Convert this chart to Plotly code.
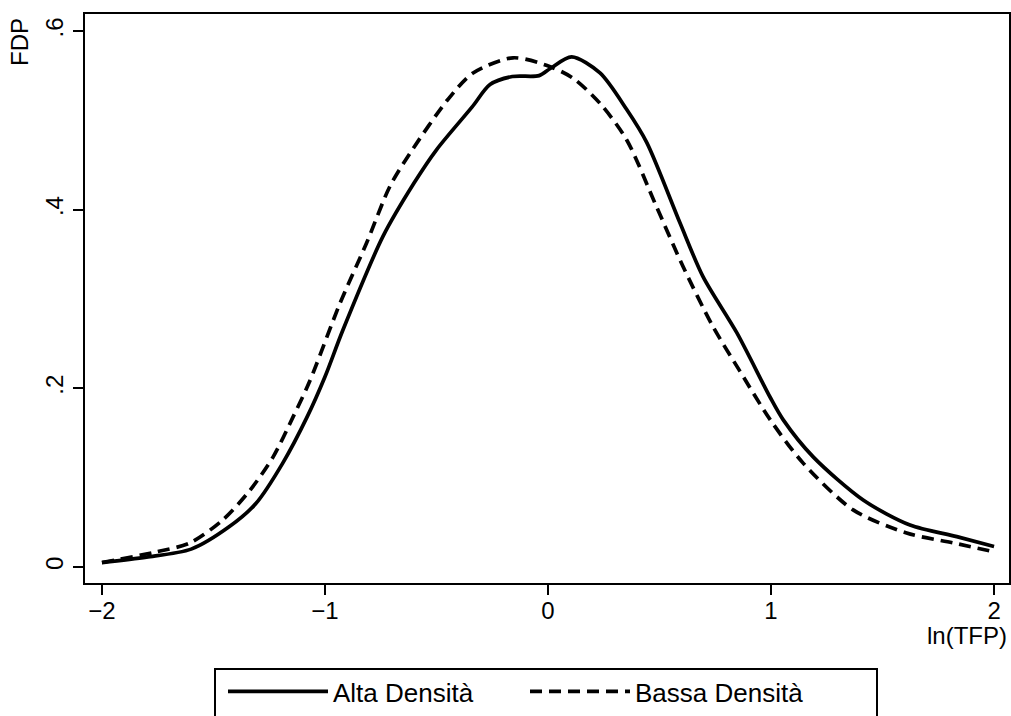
import plotly.graph_objects as go

# Alta Densità (solid)
alta_x = [-2.0, -1.8, -1.6, -1.43, -1.31, -1.19, -1.08, -1.0, -0.92, -0.74, -0.6, -0.5,
          -0.34, -0.26, -0.16, -0.04, 0.01, 0.106, 0.233, 0.353, 0.443, 0.592, 0.695,
          0.847, 0.996, 1.054, 1.19, 1.413, 1.623, 1.833, 2.0]
alta_y = [0.005, 0.011, 0.020, 0.045, 0.071, 0.116, 0.168, 0.213, 0.265, 0.37, 0.43, 0.467,
          0.515, 0.540, 0.549, 0.550, 0.558, 0.571, 0.553, 0.512, 0.475, 0.385, 0.325,
          0.262, 0.19, 0.165, 0.123, 0.075, 0.047, 0.034, 0.023]

# Bassa Densità (dashed)
bassa_x = [-2.0, -1.755, -1.605, -1.457, -1.336, -1.233, -1.143, -1.07, -0.933, -0.813,
           -0.709, -0.619, -0.45, -0.336, -0.157, 0.01, 0.113, 0.233, 0.353, 0.487, 0.606,
           0.74, 0.861, 0.996, 1.145, 1.368, 1.608, 1.817, 2.0]
bassa_y = [0.005, 0.017, 0.027, 0.053, 0.086, 0.123, 0.168, 0.207, 0.295, 0.363,
           0.426, 0.463, 0.523, 0.553, 0.570, 0.56, 0.547, 0.519, 0.478, 0.403, 0.336,
           0.269, 0.219, 0.165, 0.116, 0.064, 0.038, 0.027, 0.017]

x_ticks = [-2, -1, 0, 1, 2]
x_tick_labels = ["\u22122", "\u22121", "0", "1", "2"]
y_ticks = [0, 0.2, 0.4, 0.6]
y_tick_labels = ["0", ".2", ".4", ".6"]

FONT = "Liberation Sans, Arial, Helvetica, sans-serif"
W, H = 1011, 716
ML, MR, MT, MB = 85, 2, 14, 133
PW, PH = W - ML - MR, H - MT - MB


def px_to_paper_x(px):
    return (px - ML) / PW


def py_to_paper_y(py):
    return (H - MB - py) / PH


fig = go.Figure()
fig.add_trace(go.Scatter(x=alta_x, y=alta_y, mode="lines", name="Alta Densità",
                         line=dict(color="black", width=3.7, shape="spline", smoothing=0.8)))
fig.add_trace(go.Scatter(x=bassa_x, y=bassa_y, mode="lines", name="Bassa Densità",
                         line=dict(color="black", width=3.7, dash="12px,7px",
                                   shape="spline", smoothing=0.8)))

fig.update_layout(
    width=W, height=H,
    margin=dict(l=ML, r=MR, t=MT, b=MB, autoexpand=False),
    paper_bgcolor="white", plot_bgcolor="white",
    font=dict(family=FONT, size=24, color="black"),
    xaxis=dict(range=[-2.076, 2.067], tickvals=x_ticks, ticktext=x_tick_labels,
               showgrid=False, zeroline=False, showline=True, mirror=True,
               linecolor="black", linewidth=2, ticks="outside", ticklen=10,
               tickwidth=2, tickcolor="black", tickfont=dict(size=24),
               ticklabelstandoff=-5),
    yaxis=dict(range=[-0.0179, 0.619], tickvals=y_ticks, ticktext=y_tick_labels,
               tickangle=-90, showgrid=False, zeroline=False, showline=True, mirror=True,
               linecolor="black", linewidth=2, ticks="outside", ticklen=10,
               tickwidth=2, tickcolor="black", tickfont=dict(size=24)),
    showlegend=True,
    legend=dict(orientation="h", x=223 / W, xanchor="left", xref="container",
                y=1 - 668 / H, yref="container", yanchor="top",
                bgcolor="rgba(0,0,0,0)", borderwidth=0,
                itemwidth=100, entrywidth=187, entrywidthmode="pixels",
                font=dict(family=FONT, size=26, color="black")),
    shapes=[
        dict(type="rect", xref="paper", yref="paper",
             x0=px_to_paper_x(215), x1=px_to_paper_x(877),
             y0=py_to_paper_y(740), y1=py_to_paper_y(669),
             line=dict(color="black", width=2), fillcolor="rgba(0,0,0,0)", layer="below"),
    ],
    annotations=[
        dict(text="FDP", xref="paper", yref="paper", x=0, y=1, xanchor="center",
             yanchor="top", xshift=-66, yshift=-2, textangle=-90, showarrow=False,
             font=dict(family=FONT, size=24)),
        dict(text="ln(TFP)", xref="paper", yref="paper", x=1, y=0, xanchor="right",
             yanchor="top", xshift=0, yshift=-37, showarrow=False,
             font=dict(family=FONT, size=24)),
    ],
)

fig.write_html("out.html")
